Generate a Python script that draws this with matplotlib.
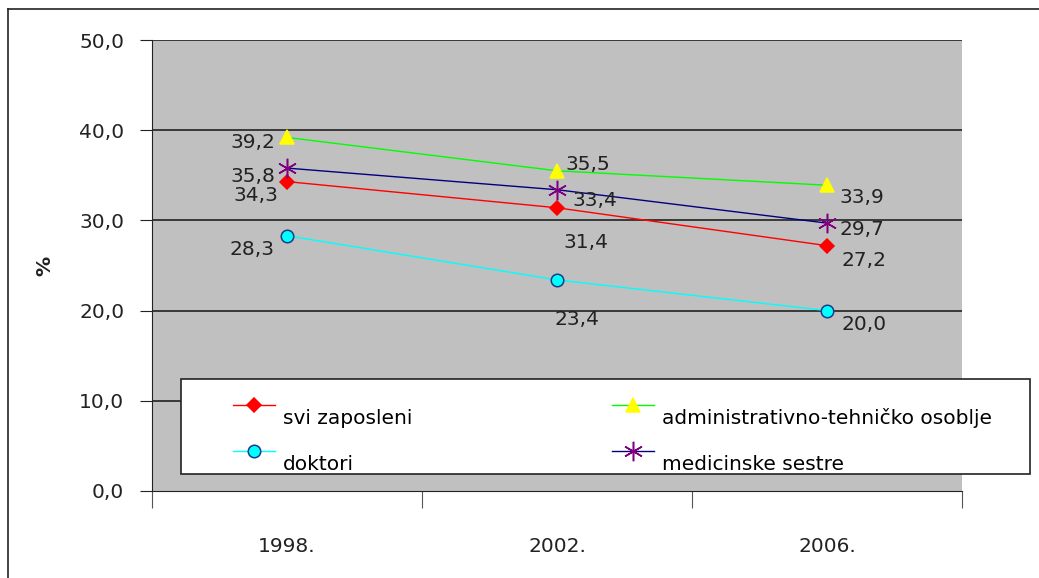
import matplotlib
matplotlib.use("Agg")
import matplotlib.pyplot as plt
from matplotlib.patches import Rectangle
from matplotlib.lines import Line2D
import numpy as np

plt.rcParams['font.family'] = ['DejaVu Sans']

years = ["1998.", "2002.", "2006."]
svi_zaposleni = [34.3, 31.4, 27.2]
administrativno = [39.2, 35.5, 33.9]
doktori = [28.3, 23.4, 20.0]
medicinske_sestre = [35.8, 33.4, 29.7]
y_ticks = [0, 10, 20, 30, 40, 50]

series_names = ["svi zaposleni", "administrativno-tehničko osoblje",
                "doktori", "medicinske sestre"]

# label offsets in pixels (dx, dy) relative to each point
off_svi = [(-31, -14), (29, -35), (37, -15)]
off_adm = [(-34, -5), (31, 6), (35, -12)]
off_dok = [(-35, -14), (20, -40), (37, -14)]
off_med = [(-34, -8), (38, -11), (35, -6)]

FS = 14.5
W, H = 1039, 578
fig = plt.figure(figsize=(W / 100, H / 100), dpi=100)
fig.patch.set_facecolor("white")

# outer border of the figure (top and left visible)
fig.add_artist(Line2D([8 / W, 8 / W], [0, 1 - 9 / H], transform=fig.transFigure,
                      color="#222222", lw=1.2))
fig.add_artist(Line2D([8 / W, 1], [1 - 9 / H, 1 - 9 / H], transform=fig.transFigure,
                      color="#222222", lw=1.2))

x0, x1, ytop, ybot = 152, 962, 40, 491
ax = fig.add_axes([x0 / W, (H - ybot) / H, (x1 - x0) / W, (ybot - ytop) / H])
ax.set_facecolor("#c0c0c0")

x = np.arange(len(years))
ax.set_xlim(-0.5, len(years) - 0.5)
ax.set_ylim(0, 50)

for yv in y_ticks[1:]:
    ax.axhline(yv, color="#222222", lw=1.2, zorder=1)

def fmt(v):
    return f"{v:.1f}".replace(".", ",")

ASTER = (6, 2, 0)
series = [
    (svi_zaposleni, "red", "D", "red", "red", 7, off_svi),
    (administrativno, "#00ff00", "^", "yellow", "yellow", 10, off_adm),
    (doktori, "cyan", "o", "cyan", "#1a3a8a", 9, off_dok),
    (medicinske_sestre, "#000080", ASTER, "#800080", "#800080", 14, off_med),
]
handles = []
for (vals, lc, mk, mfc, mec, ms, offs), name in zip(series, series_names):
    h, = ax.plot(x, vals, color=lc, lw=1, marker=mk, ms=ms, mfc=mfc, mec=mec,
                 mew=1.1, zorder=3)
    handles.append(h)
    for xi, v, (dx, dy) in zip(x, vals, offs):
        ax.annotate(fmt(v), (xi, v), xytext=(dx, dy), textcoords="offset pixels",
                    ha="center", va="center", fontsize=FS, color="#222222", zorder=4)

ax.set_yticks(y_ticks)
ax.set_yticklabels([fmt(v) for v in y_ticks], fontsize=FS, color="#222222")
ax.set_xticks([-0.5, 0.5, 1.5, 2.5])
ax.set_xticklabels([])
ax.set_xticks(x, minor=True)
ax.set_xticklabels(years, minor=True, fontsize=FS, color="#222222")
ax.tick_params(axis="x", which="major", length=12, direction="out", color="#555555")
ax.tick_params(axis="x", which="minor", length=0, pad=33)
ax.tick_params(axis="y", length=9, direction="out", pad=11, color="#222222")
for s in ["top", "right"]:
    ax.spines[s].set_visible(False)
ax.spines["left"].set_color("#222222")
ax.spines["bottom"].set_color("#222222")
ax.set_ylabel("%", fontsize=FS, fontweight="bold", labelpad=18, color="#222222")

# legend frame box
lx0, lx1, ly0, ly1 = 181, 1030, 379, 474
fig.add_artist(Rectangle((lx0 / W, (H - ly1) / H), (lx1 - lx0) / W, (ly1 - ly0) / H,
                         transform=fig.transFigure, facecolor="white",
                         edgecolor="#222222", lw=1.2, zorder=5))
order = [0, 2, 1, 3]
leg = fig.legend([handles[i] for i in order], [series_names[i] for i in order],
                 ncol=2, loc="upper left",
                 bbox_to_anchor=(233 / W, 1 - 396 / H), frameon=False,
                 fontsize=FS, handlelength=2.1, handletextpad=0.4,
                 columnspacing=9.9, labelspacing=1.35, borderpad=0, borderaxespad=0)
leg.set_zorder(6)
for t in leg.get_texts():
    try:
        t.set_y(-12)
    except Exception:
        pass

fig.savefig("out.png", dpi=100, facecolor="white")
